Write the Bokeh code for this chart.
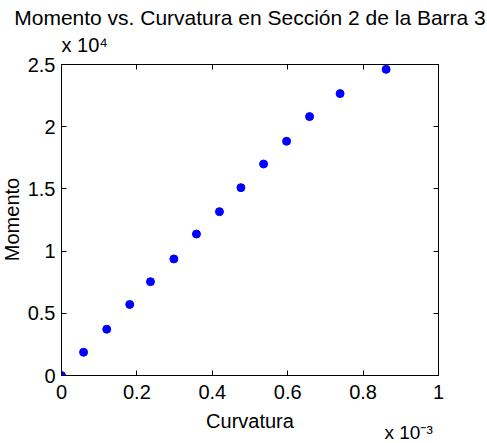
import math
from bokeh.plotting import figure
from bokeh.models import Range1d, FixedTicker, CustomJSTickFormatter, LinearAxis, Label
from bokeh.embed import file_html
from bokeh.resources import INLINE

# Data (curvature, moment)
curvatura = [0.0, 0.0586e-3, 0.120e-3, 0.181e-3, 0.236e-3, 0.298e-3, 0.358e-3,
             0.419e-3, 0.476e-3, 0.536e-3, 0.597e-3, 0.658e-3, 0.739e-3, 0.861e-3]
momento = [0, 1870, 3720, 5710, 7540, 9370, 11370,
           13170, 15100, 17000, 18830, 20810, 22660, 24610]

x_ticks = [0, 0.0002, 0.0004, 0.0006, 0.0008, 0.001]
y_ticks = [0, 5000, 10000, 15000, 20000, 25000]

title_text = "Momento vs. Curvatura en Sección 2 de la Barra 3"
xlabel = "Curvatura"
ylabel = "Momento"
y_mult = "x 10\u2074"
x_mult = "x 10\u207b\u00b3"

FONT = "Liberation Sans"

p = figure(width=487, height=443, output_backend="svg", toolbar_location=None,
           x_range=Range1d(0, 0.001), y_range=Range1d(0, 25000),
           min_border_left=61, min_border_right=49, min_border_top=64, min_border_bottom=68)
p.background_fill_color = "white"
p.border_fill_color = "white"
p.outline_line_color = "black"
p.outline_line_width = 1
p.grid.visible = False

xfmt = CustomJSTickFormatter(code="return (Math.round(tick*1e4)/10).toString();")
yfmt = CustomJSTickFormatter(code="return (Math.round(tick/1000)/10).toString();")
blank = CustomJSTickFormatter(code="return '';")

def style_axis(ax, fmt, ticks):
    ax.ticker = FixedTicker(ticks=ticks)
    ax.formatter = fmt
    ax.major_tick_in = 5
    ax.major_tick_out = 0
    ax.minor_tick_line_color = None
    ax.axis_line_color = "black"
    ax.major_tick_line_color = "black"
    ax.major_label_text_font = FONT
    ax.major_label_text_font_size = "20px"
    ax.major_label_text_color = "black"
    ax.axis_label_text_font = FONT
    ax.axis_label_text_font_size = "20px"
    ax.axis_label_text_font_style = "normal"
    ax.axis_label_text_color = "black"

style_axis(p.xaxis[0], xfmt, x_ticks)
style_axis(p.yaxis[0], yfmt, y_ticks)
p.xaxis[0].axis_label = xlabel
p.xaxis[0].major_label_standoff = 9
p.xaxis[0].axis_label_standoff = 8
p.yaxis[0].major_label_standoff = 6

top = LinearAxis()
style_axis(top, blank, x_ticks)
top.major_label_standoff = 0
top.major_label_text_font_size = "1px"
p.add_layout(top, "above")
right = LinearAxis()
style_axis(right, blank, y_ticks)
right.major_label_standoff = 0
right.major_label_text_font_size = "1px"
p.add_layout(right, "right")

p.scatter(curvatura, momento, size=8, color="#0000ff", marker="circle")

def side_label(side, x, y, text, size, align="left", angle=0.0):
    p.add_layout(Label(x=x, y=y, x_units="screen", y_units="screen", text=text,
                       text_font=FONT, text_font_size=size, text_color="black",
                       text_align=align, text_baseline="alphabetic", angle=angle), side)

# multiplier above the y axis
side_label("above", 0, 20, y_mult, "20px")
# title
side_label("above", 188.5, 25, title_text, "21px", "center")
# y axis label
side_label("left", 9, 156, ylabel, "20px", "center", math.pi / 2)
# multiplier under the x axis (drawn from the right panel)
side_label("right", -54, -57, x_mult, "19px")

open("out.html", "w").write(file_html(p, INLINE))
